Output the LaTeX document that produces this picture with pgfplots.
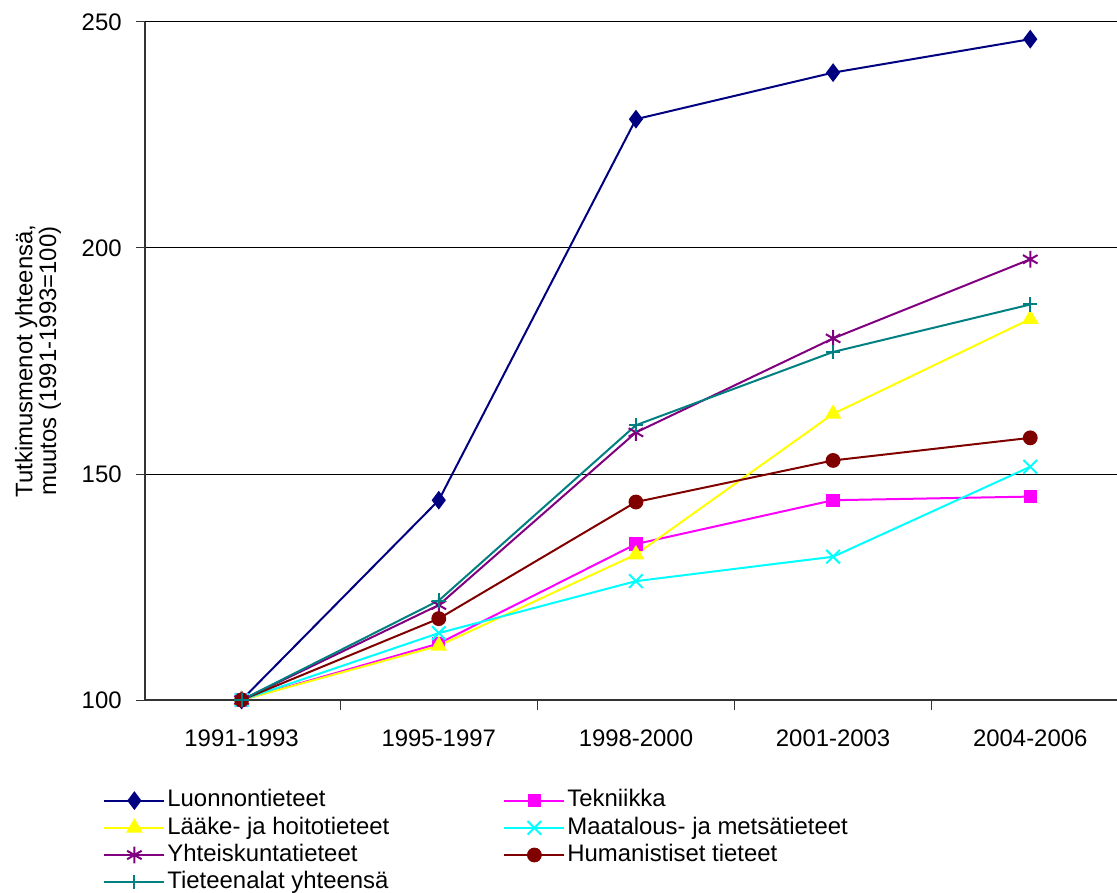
\documentclass[border=0pt]{standalone}
\usepackage{fontspec}
\setmainfont{Liberation Sans}
\usepackage{pgfplots}
\pgfplotsset{compat=1.18}

\definecolor{cNavy}{RGB}{0,0,128}
\definecolor{cMag}{RGB}{255,0,255}
\definecolor{cYel}{RGB}{255,255,0}
\definecolor{cCyan}{RGB}{0,255,255}
\definecolor{cPurp}{RGB}{128,0,128}
\definecolor{cBrown}{RGB}{128,0,0}
\definecolor{cTeal}{RGB}{0,128,128}

\begin{document}
\fontsize{12}{13.5}\selectfont
\begin{tikzpicture}
\useasboundingbox (-72.5bp,-96.5bp) rectangle (486bp,350bp);
\begin{axis}[
    at={(0,0)}, anchor=south west,
    scale only axis,
    width=486bp, height=339bp,
    xmin=-0.49, xmax=4.44,
    ymin=100, ymax=250,
    axis x line*=bottom,
    axis y line*=left,
    axis line style={line width=0.6bp, black!80},
    xtick={0,1,2,3,4},
    xticklabels={1991-1993,1995-1997,1998-2000,2001-2003,2004-2006},
    major x tick style={draw=none},
    minor xtick={-0.5,0.5,1.5,2.5,3.5},
    minor x tick style={line width=0.5bp, black!80},
    minor tick length=5bp,
    ytick={100,150,200,250},
    major tick length=4.5bp,
    tick align=outside,
    y tick style={line width=0.5bp, black!80},
    ymajorgrids,
    major grid style={line width=0.5bp, black},
    xticklabel style={yshift=-6bp},
    yticklabel style={xshift=-3bp},
    /pgf/number format/assume math mode=true,
    tick label style={font=\fontsize{12}{13.5}\selectfont},
    ylabel={Tutkimusmenot yhteensä,\\[-1.5bp]muutos (1991-1993=100)},
    every axis y label/.style={at={(axis description cs:-0.11,0.5)}, rotate=90, anchor=center, align=center, font=\fontsize{12}{13.5}\selectfont},
    clip=false,
    every axis plot/.append style={line width=1bp},
    legend columns=2,
    legend cell align=left,
    legend style={at={(0,0)}, anchor=north west, xshift=-21bp, yshift=-43.5bp,
        draw=none, fill=none, inner sep=0pt,
        font=\fontsize{12}{13.5}\selectfont,
        nodes={inner sep=1bp, text height=8.7bp, text depth=2.5bp},
        row sep=0.4bp,
        /tikz/column 2/.style={column sep=56bp}},
    legend image code/.code={\draw[mark repeat=2,mark phase=2,#1] plot coordinates {(0bp,0bp) (15bp,0bp) (30bp,0bp)};},
]
\addplot[color=cNavy, mark=diamond*, mark size=3.9bp] coordinates {(0,100) (1,144.2) (2,228.5) (3,238.8) (4,246.2)};
\addlegendentry{Luonnontieteet}
\addplot[color=cMag, mark=square*, mark size=2.8bp] coordinates {(0,100) (1,112.5) (2,134.5) (3,144.2) (4,145)};
\addlegendentry{Tekniikka}
\addplot[color=cYel, mark=triangle*, mark size=3.8bp] coordinates {(0,100) (1,112) (2,132.2) (3,163.3) (4,184.3)};
\addlegendentry{Lääke- ja hoitotieteet}
\addplot[color=cCyan, mark=x, mark size=4.8bp] coordinates {(0,100) (1,114.8) (2,126.3) (3,131.7) (4,151.6)};
\addlegendentry{Maatalous- ja metsätieteet}
\addplot[color=cPurp, mark=asterisk, mark size=4.2bp] coordinates {(0,100) (1,121) (2,159.2) (3,180) (4,197.5)};
\addlegendentry{Yhteiskuntatieteet}
\addplot[color=cBrown, mark=*, mark size=3.2bp] coordinates {(0,100) (1,118) (2,143.8) (3,153) (4,158)};
\addlegendentry{Humanistiset tieteet}
\addplot[color=cTeal, mark=+, mark size=3.6bp] coordinates {(0,100) (1,122) (2,160.8) (3,177) (4,187.5)};
\addlegendentry{Tieteenalat yhteensä}
\end{axis}
\end{tikzpicture}
\end{document}
